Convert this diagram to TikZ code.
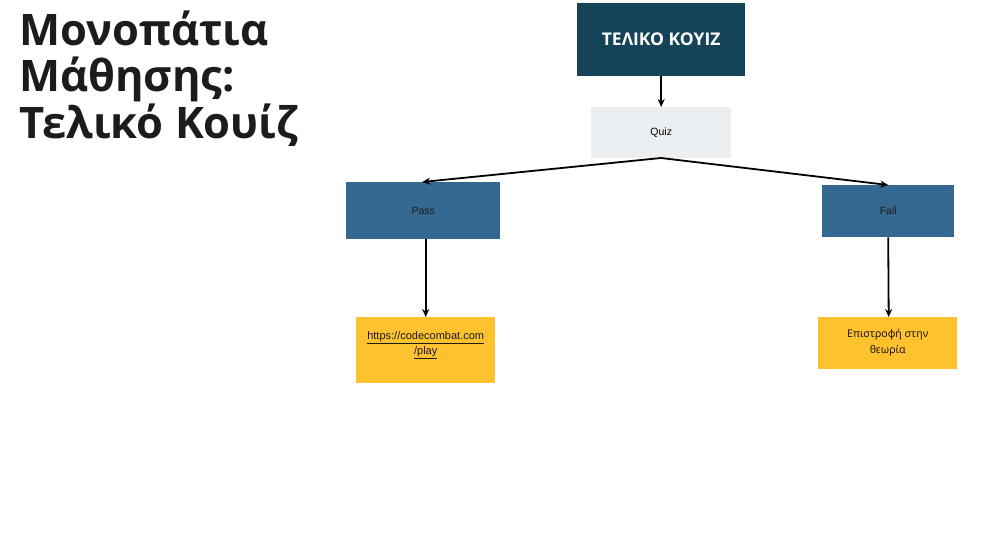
\documentclass[tikz,border=0pt]{standalone}
\usepackage{fontspec}
\setmainfont{Open Sans}
\newfontfamily\titlefont{Open Sans}
\newfontfamily\smallfont{Liberation Sans}
\newfontfamily\greekfont{Noto Sans}
\usetikzlibrary{arrows.meta}
\definecolor{topc}{HTML}{154459}
\definecolor{quizc}{HTML}{ECEFF2}
\definecolor{midc}{HTML}{356891}
\definecolor{yelc}{HTML}{FFC22F}
\definecolor{txtc}{HTML}{1C1C1C}
\tikzset{
  box/.style={rectangle, inner sep=0pt, anchor=north west},
  conn/.style={draw=black, line width=1.8pt, -{Stealth[length=8pt,width=7pt]}},
}
\begin{document}
\begin{tikzpicture}[x=1pt,y=-1pt]
\useasboundingbox[fill=white] (0,0) rectangle (1001,541);
\node[anchor=north west, inner sep=0pt, align=left, text=txtc, font={\titlefont\bfseries\fontsize{43.5}{46.5}\selectfont}] (title) at (19,10.5) {Μονοπάτια\\Μάθησης:\\Τελικό Κουίζ};
\node[box, fill=topc, minimum width=168pt, minimum height=73pt] (top) at (577,3) {};
\node[text=white, font={\titlefont\bfseries\fontsize{17.5}{20}\selectfont}] (toptxt) at (top.center) {ΤΕΛΙΚΟ ΚΟΥΙΖ};
\node[box, fill=quizc, minimum width=140pt, minimum height=51pt] (quiz) at (591,107) {};
\node[font={\smallfont\fontsize{10.5}{12}\selectfont}] (quiztxt) at (quiz.center) {Quiz};
\node[box, fill=midc, minimum width=154pt, minimum height=57pt] (pass) at (346,182) {};
\node[text=txtc, font={\smallfont\fontsize{10.5}{12}\selectfont}] (passtxt) at (pass.center) {Pass};
\node[box, fill=midc, minimum width=132pt, minimum height=52pt] (fail) at (822,185) {};
\node[text=txtc, font={\smallfont\fontsize{10.5}{12}\selectfont}] (failtxt) at (fail.center) {Fail};
\node[box, fill=yelc, minimum width=139pt, minimum height=66pt] (link) at (356,317) {};
\node[anchor=north, align=center, text=txtc, font={\smallfont\fontsize{11}{15}\selectfont}] (linktxt) at ([yshift=-11pt]link.north) {\underline{https://codecombat.com}\\\underline{/play}};
\node[box, fill=yelc, minimum width=139pt, minimum height=52pt] (back) at (818,317) {};
\node[anchor=north, align=center, text=txtc!80!yelc!40!black, font={\greekfont\fontsize{10.6}{16}\selectfont}] (backtxt) at ([yshift=-9pt]back.north) {Επιστροφή στην\\θεωρία};
\coordinate (qb) at (661,158);
\draw[conn] (top.south) -- (quiz.north);
\draw[conn] (qb) -- ([xshift=-1pt]pass.north);
\draw[conn] (qb) -- (fail.north);
\draw[conn] ([xshift=2.5pt]pass.south) -- (link.north);
\draw[conn] (fail.south) -- ([xshift=1pt]back.north);
\end{tikzpicture}
\end{document}
